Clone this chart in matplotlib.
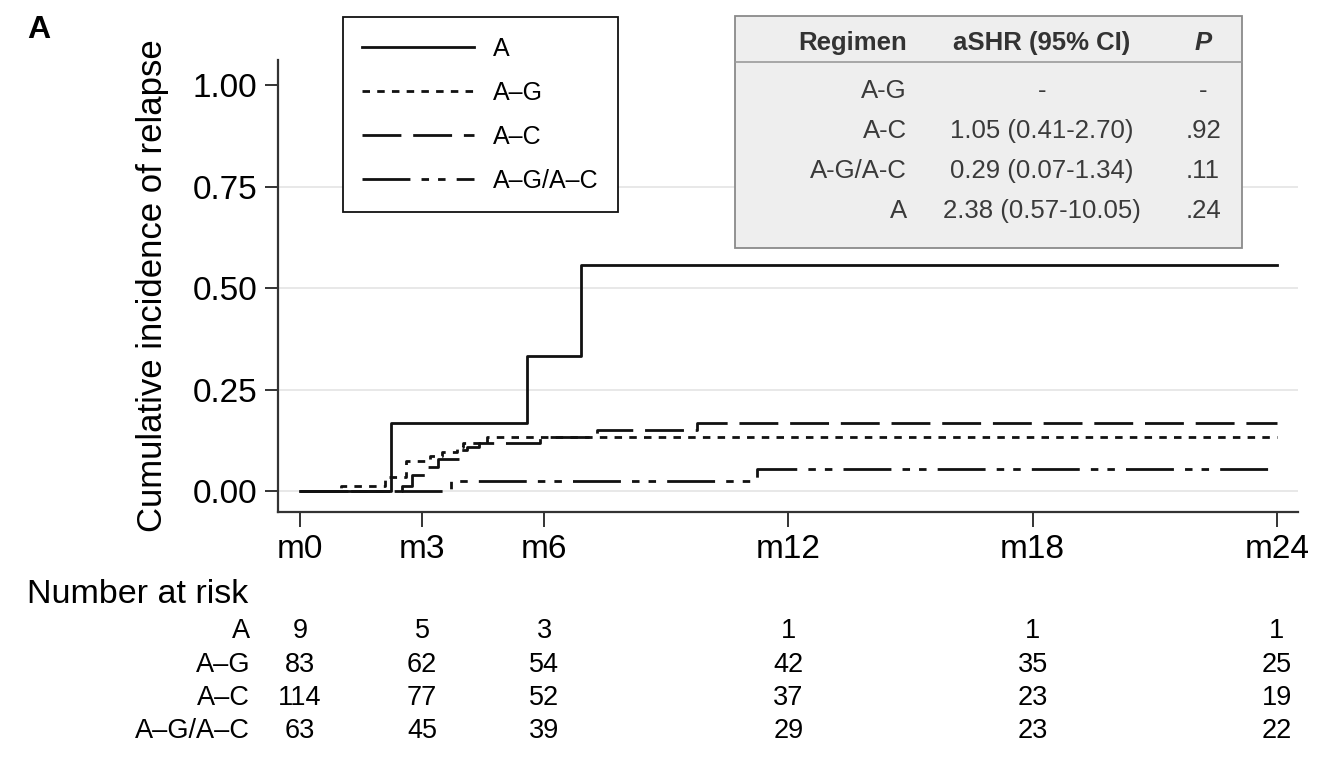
import matplotlib
matplotlib.use("Agg")
import matplotlib.pyplot as plt
from matplotlib.patches import Rectangle
from matplotlib.transforms import blended_transform_factory

plt.rcParams['font.family'] = ['Liberation Sans', 'DejaVu Sans']
plt.rcParams['lines.scale_dashes'] = False

# cumulative incidence step data (event time in months, value after the step)
a_times = [0, 2.23, 5.58, 6.9]
a_vals = [0, 0.167, 0.333, 0.556]

ag_times = [0, 1.0, 2.1, 2.6, 3.2, 3.5, 3.85, 4.0, 4.6]
ag_vals = [0, 0.012, 0.035, 0.074, 0.085, 0.097, 0.108, 0.118, 0.134]

ac_times = [0, 2.5, 2.75, 3.1, 3.4, 3.9, 4.1, 4.4, 5.9, 7.3, 9.75]
ac_vals = [0, 0.012, 0.04, 0.06, 0.08, 0.10, 0.108, 0.118, 0.133, 0.150, 0.167]

agac_times = [0, 3.7, 11.23]
agac_vals = [0, 0.025, 0.054]

follow_up = 24

series_names = ['A', 'A–G', 'A–C', 'A–G/A–C']

# number at risk
risk_months = [0, 3, 6, 12, 18, 24]
risk_a = [9, 5, 3, 1, 1, 1]
risk_ag = [83, 62, 54, 42, 35, 25]
risk_ac = [114, 77, 52, 37, 23, 19]
risk_agac = [63, 45, 39, 29, 23, 22]

# inset table
tab_regimen = ['A-G', 'A-C', 'A-G/A-C', 'A']
tab_ashr = ['-', '1.05 (0.41-2.70)', '0.29 (0.07-1.34)', '2.38 (0.57-10.05)']
tab_p = ['-', '.92', '.11', '.24']

W, H = 1342, 779
fig = plt.figure(figsize=(W / 100, H / 100), dpi=100)


def fx(px):
    return px / W


def fy(py):
    return 1 - py / H


ax = fig.add_axes([fx(278), fy(512), fx(1298) - fx(278), fy(60) - fy(512)])

styles = [
    dict(linestyle='-'),
    dict(dashes=(5.4, 5.2)),
    dict(dashes=(28, 8.5)),
    dict(dashes=(34.5, 8, 5.4, 6.5, 5.4, 8)),
]
all_times = [a_times, ag_times, ac_times, agac_times]
all_vals = [a_vals, ag_vals, ac_vals, agac_vals]

for t, v, name, st in zip(all_times, all_vals, series_names, styles):
    ax.step(t + [follow_up], v + [v[-1]], where='post', color='#111111',
            lw=2.0, label=name, zorder=3, **st)

ax.set_xlim(-0.54, 24.52)
ax.set_ylim(-0.0517, 1.0616)
ax.set_xticks(risk_months)
ax.set_xticklabels(['m%d' % m for m in risk_months])
ax.set_yticks([0, 0.25, 0.5, 0.75, 1.0])
ax.set_yticklabels(['0.00', '0.25', '0.50', '0.75', '1.00'])
for g in [0, 0.25, 0.5, 0.75]:
    ax.axhline(g, color='#e6e6e6', lw=1.3, zorder=1)

for s in ['top', 'right']:
    ax.spines[s].set_visible(False)
for s in ['left', 'bottom']:
    ax.spines[s].set_color('#333333')
    ax.spines[s].set_linewidth(1.6)
ax.tick_params(axis='y', length=9.4, width=1.4, color='#333333', pad=5.5, labelsize=24)
ax.tick_params(axis='x', length=10.8, width=1.4, color='#333333', pad=5, labelsize=24)
ax.set_ylabel('Cumulative incidence of relapse', fontsize=25)
ax.yaxis.set_label_coords(fx(169), (fy(60) + fy(512)) / 2, transform=fig.transFigure)

leg = ax.legend(loc='upper left', bbox_to_anchor=(fx(343), fy(17)),
                bbox_transform=fig.transFigure, borderaxespad=0, fontsize=18,
                handlelength=4.45, handletextpad=0.75, labelspacing=0.8,
                borderpad=0.78, fancybox=False, framealpha=1)
leg.get_frame().set_edgecolor('#111111')
leg.get_frame().set_linewidth(1.3)

# panel letter
fig.text(fx(27), fy(38), 'A', fontsize=23, fontweight='bold', va='baseline')

# number at risk table
tr = blended_transform_factory(ax.transData, fig.transFigure)
fig.text(fx(27), fy(603), 'Number at risk', fontsize=24.5, va='baseline')
row_y = [638, 672, 705, 738]
for name, counts, ry in zip(series_names, [risk_a, risk_ag, risk_ac, risk_agac], row_y):
    fig.text(fx(250), fy(ry), name, fontsize=19.5, ha='right', va='baseline')
    for m, c in zip(risk_months, counts):
        ax.text(m, fy(ry), str(c), transform=tr, fontsize=19.5, ha='center',
                va='baseline', clip_on=False)

# inset table with aSHR
box = Rectangle((fx(735), fy(248)), fx(1242) - fx(735), fy(16) - fy(248),
                transform=fig.transFigure, facecolor='#eeeeee',
                edgecolor='#8a8a8a', lw=1.3, zorder=5)
fig.patches.append(box)
fig.add_artist(plt.Line2D([fx(735), fx(1242)], [fy(62), fy(62)],
                          transform=fig.transFigure, color='#9a9a9a', lw=1.2, zorder=6))
hdr_y = fy(50)
fig.text(fx(907), hdr_y, 'Regimen', fontsize=18.5, fontweight='bold', ha='right',
         va='baseline', color='#333333', zorder=7)
fig.text(fx(1042), hdr_y, 'aSHR (95% CI)', fontsize=18.5, fontweight='bold', ha='center',
         va='baseline', color='#333333', zorder=7)
fig.text(fx(1203), hdr_y, 'P', fontsize=18.5, fontweight='bold', style='italic',
         ha='center', va='baseline', color='#333333', zorder=7)
for reg, hr, p, ry in zip(tab_regimen, tab_ashr, tab_p, [98, 138, 178, 218]):
    fig.text(fx(907), fy(ry), reg, fontsize=18.5, ha='right', va='baseline',
             color='#3a3a3a', zorder=7)
    fig.text(fx(1042), fy(ry), hr, fontsize=18.5, ha='center', va='baseline',
             color='#3a3a3a', zorder=7)
    fig.text(fx(1203), fy(ry), p, fontsize=18.5, ha='center', va='baseline',
             color='#3a3a3a', zorder=7)

fig.savefig('out.png', dpi=100, facecolor='white')
